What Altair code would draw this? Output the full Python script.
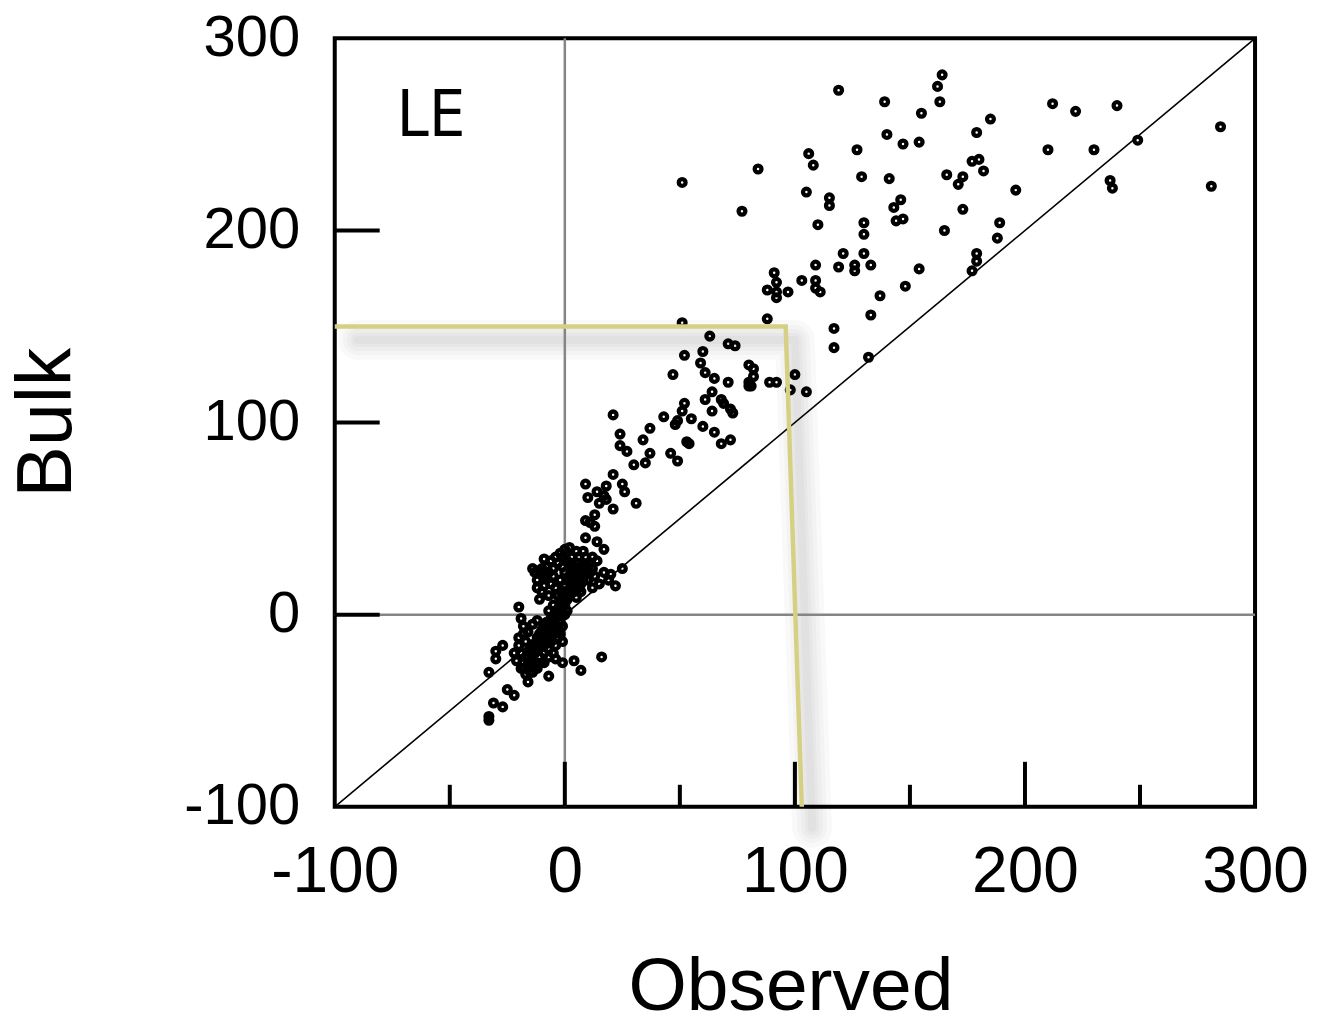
import altair as alt
import pandas as pd

# ---- data ----
observed = [
    164, 162, 119, 139, 163, 155, 185, 179, 140, 147, 154, 127, 106, 108, 177, 180, 182, 166, 173, 171,
    84, 51, 129, 141, 105, 115, 115, 146, 143, 173, 77, 110, 130, 144, 147, 130, 165, 189, 188, 121, 130, 179,
    212, 222, 240, 285, 249, 210, 230, 196, 237, 238, 281,
    179, 177, 91, 109, 119, 126, 126, 133, 154, 148, 103, 109, 109, 111, 88, 92, 92, 92, 97, 137, 133, 88,
    117, 117, 132, 100, 98, 105, 80, 82, 82, 80, 81, 89, 92,
    51, 63, 71, 74, 52, 60, 59, 61, 65, 71, 47, 80, 64, 61, 68, 69, 64, 72, 73, 52, 51, 43, 49, 48, 55, 60,
    65, 21, 24, 37, 34, 24, 27, 37, 53, 54, 68, 72, 46, 49, 30, 35,
    21, 9, 18, 25, 26, 14, 17, 18, 15, 10, 31, 21, 13, 9, 11, 13, 9, 14, 17, 2, -9, -14, -11, 25, 20, 12,
    -12, -20, -19, 16, 4, 7, -7, -16, -1, -30, -27, -30, -33, -25, -22, -31, -27, -33, -33,
    # dense core
    -3, -1, 0, 1, 2, 3, 4, 5, 6, 7, 8, 5, 3, 1, -2, 0, 2, 4, 6, 8, 9, -4, -2, 0, 2, 3, 6, -1, 4, 7, 10, 11,
    -6, -5, 1, 5, -12, -10, -8, -9, -7, -11, -13, 10, 13, 15, 17, 12, 19, 22, 14,
    -6, -4, -3, -1, -5, -2, 0, -7, 1, -3,
    -18, -16, -15, -14, -13, -12, -11, -10, -9, -8, -7, -6, -5, -10, -12, -14, -16, -17, -19, -8, -6, -9,
    -11, -13, -15, -4, -7, -10, -20, -18, -5, -3, -4, -1,
    -17, -15, -13, -11, -9, -7, -5, -3, -1, 1, 3, 5, 7, 9, -16, -14, -12, -10, -8, -6, -4, -2, 0, 2, 4, 6, 8,
    -18, -13, -9, -5, -1, 3, 7, -11, -7, -3, 1, 5, -15,
    -8, -6, -4, -2, 0, -7, -5, -3, -1, 9, 11, 12, 8, 5, -9, -10,
    -22, -21, -19, -17, -14, -12, -9, -7, -20, -18, -16, -14, -12, -4, -2, -1,
]
bulk = [
    281, 275, 273, 267, 267, 261, 258, 251, 250, 245, 246, 242, 240, 234, 236, 237, 231, 229, 228, 224,
    232, 225, 228, 227, 220, 217, 213, 216, 212, 211, 210, 203, 204, 205, 206, 198, 200, 204, 196, 188, 188, 188,
    266, 262, 265, 254, 247, 242, 242, 221, 226, 222, 223,
    184, 179, 178, 182, 181, 182, 179, 182, 180, 171, 174, 174, 170, 168, 169, 173, 168, 165, 168, 166, 156, 154,
    149, 139, 134, 125, 117, 116, 130, 128, 124, 119, 119, 121, 121,
    152, 145, 141, 140, 135, 137, 131, 126, 123, 121, 125, 121, 116, 112, 112, 110, 106, 107, 105, 110, 106, 103, 101, 99, 102, 98,
    95, 104, 94, 97, 91, 88, 85, 84, 90, 89, 89, 91, 84, 80, 78, 79,
    73, 68, 67, 68, 64, 64, 62, 60, 58, 61, 58, 55, 52, 49, 48, 46, 40, 38, 34, 35, 29, 24, 23, 24, 21, 30,
    14, 4, -2, -22, -24, -29, -32, -35, -6, -19, -16, -23, -30, -39, -42, -46, -48, -53, -55,
    # dense core
    10, 12, 15, 18, 20, 22, 25, 27, 24, 20, 18, 15, 13, 8, 6, 5, 10, 12, 14, 22, 26, 14, 18, 22, 26, 30, 30, 25, 17, 12, 18, 22,
    16, 20, 28, 9, 18, 12, 20, 15, 10, 8, 22, 25, 20, 16, 22, 14, 18, 15, 28,
    -2, 0, 3, 5, 5, -4, 0, 2, 2, -6,
    -25, -22, -18, -20, -15, -12, -10, -8, -6, -4, -10, -7, -5, -14, -18, -24, -28, -14, -20, -15, -14, -20,
    -22, -27, -30, -9, -18, -25, -16, -10, -20, -12, -23, -25,
    -22, -19, -16, -13, -10, -6, -3, 1, 4, 8, 12, 16, 19, 23, -26, -22, -17, -12, -9, -4, -1, 3, 7, 13, 19, 21, 26,
    -28, -20, -12, -2, 10, 15, 16, -17, -12, -8, 12, 22, -25,
    25, 28, 30, 32, 34, 22, 24, 27, 30, 30, 27, 24, 33, 33, 20, 24,
    -20, -24, -28, -31, -30, -28, -25, -22, -12, -6, -9, -5, -3, -16, -10, -14,
]

axis_values = [-100, 0, 100, 200, 300]
major_ticks = [0, 100, 200]
minor_ticks = [-50, 50, 150, 250]
diag = [-100, 300]
ann_x = [-100, 96, 103]
ann_y = [150, 150, -100]
shadow_x = [-90, 100, 107.5]
shadow_y = [143, 143, -111]
panel_label = "LE"
label_pos = (-73, 249)

FONT = "Liberation Sans, Arial, sans-serif"
LABEL_EXPR = "datum.value < 0 ? '-' + abs(datum.value) : '' + datum.value"

pts = pd.DataFrame({"Observed": observed, "Bulk": bulk})
xs = alt.Scale(domain=[-100, 300], nice=False, zero=False)
ys = alt.Scale(domain=[-100, 300], nice=False, zero=False)

x_axis = alt.Axis(values=axis_values, ticks=False, domain=False, grid=False, labelFontSize=64,
                  labelFont=FONT, labelColor="black", labelPadding=34, labelFlush=False,
                  labelExpr=LABEL_EXPR,
                  title="Observed", titleFont=FONT, titleFontSize=75, titleFontWeight="normal",
                  titleColor="black", titleX=456, titleY=180, titleBaseline="middle", titleAlign="center")
y_axis = alt.Axis(values=axis_values, ticks=False, domain=False, grid=False, labelFontSize=58,
                  labelFont=FONT, labelColor="black", labelPadding=35, labelBaseline="middle",
                  labelExpr=LABEL_EXPR,
                  title="Bulk", titleFont=FONT, titleFontSize=77, titleFontWeight="normal",
                  titleColor="black", titleAngle=-90, titleX=-287, titleY=384, titleBaseline="middle",
                  titleAlign="center")

base_pts = alt.Chart(pts).mark_point(shape="circle", filled=False, size=46, strokeWidth=4.3,
                                     color="black", opacity=1).encode(
    x=alt.X("Observed:Q", scale=xs, axis=x_axis),
    y=alt.Y("Bulk:Q", scale=ys, axis=y_axis),
)

shadow_df = pd.DataFrame({"x": shadow_x, "y": shadow_y, "o": [0, 1, 2]})
shadow_layers = [
    alt.Chart(shadow_df).mark_line(color="black", strokeWidth=w, opacity=0.025, clip=False,
                                   strokeJoin="round", strokeCap="round").encode(
        x=alt.X("x:Q", scale=xs), y=alt.Y("y:Q", scale=ys), order="o:Q")
    for w in [40, 30, 22, 14, 8]
]

zero_v = alt.Chart(pd.DataFrame({"v": [0]})).mark_rule(color="#858585", strokeWidth=2.5).encode(
    x=alt.X("v:Q", scale=xs))
zero_h = alt.Chart(pd.DataFrame({"v": [0]})).mark_rule(color="#858585", strokeWidth=2.5).encode(
    y=alt.Y("v:Q", scale=ys))

diag_line = alt.Chart(pd.DataFrame({"x": diag, "y": diag})).mark_line(
    color="black", strokeWidth=1.6).encode(x=alt.X("x:Q", scale=xs), y=alt.Y("y:Q", scale=ys))

ann_df = pd.DataFrame({"x": ann_x, "y": ann_y, "o": [0, 1, 2]})
ann_line = alt.Chart(ann_df).mark_line(color="#d6d084", strokeWidth=4.5, strokeJoin="miter").encode(
    x=alt.X("x:Q", scale=xs), y=alt.Y("y:Q", scale=ys), order="o:Q")

xt_major = alt.Chart(pd.DataFrame({"t": major_ticks})).mark_rule(color="black", strokeWidth=4).encode(
    x=alt.X("t:Q", scale=xs), y=alt.value(769), y2=alt.value(724))
xt_minor = alt.Chart(pd.DataFrame({"t": minor_ticks})).mark_rule(color="black", strokeWidth=4).encode(
    x=alt.X("t:Q", scale=xs), y=alt.value(769), y2=alt.value(747))
yt_major = alt.Chart(pd.DataFrame({"t": major_ticks})).mark_rule(color="black", strokeWidth=4).encode(
    y=alt.Y("t:Q", scale=ys), x=alt.value(0), x2=alt.value(45))

label = alt.Chart(pd.DataFrame({"x": [label_pos[0]], "y": [label_pos[1]], "t": [panel_label]})).mark_text(
    font="Liberation Sans Narrow, DejaVu Sans Condensed, Liberation Sans", fontSize=64,
    align="left", baseline="alphabetic", color="black").encode(
    x=alt.X("x:Q", scale=xs), y=alt.Y("y:Q", scale=ys), text="t:N")

chart = alt.layer(
    *shadow_layers, zero_v, zero_h, diag_line, base_pts, ann_line,
    xt_major, xt_minor, yt_major, label
).properties(
    width=921, height=769,
    autosize=alt.AutoSizeParams(type="none"),
    padding={"left": 327, "top": 30, "right": 55, "bottom": 209},
    background="white",
).configure_view(stroke="black", strokeWidth=4)

chart.save("out.html", embed_options={"renderer": "svg", "actions": False})
